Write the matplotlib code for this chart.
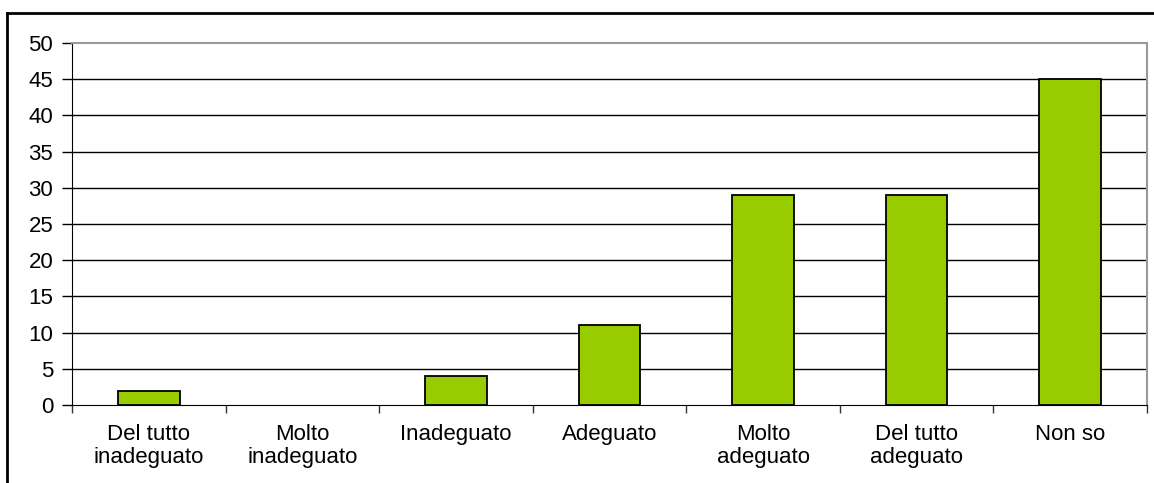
import matplotlib
matplotlib.use("Agg")
import matplotlib.pyplot as plt
from matplotlib.lines import Line2D

plt.rcParams['font.family'] = ['Liberation Sans', 'DejaVu Sans']

# data
categorie = ["Del tutto\ninadeguato", "Molto\ninadeguato", "Inadeguato", "Adeguato",
             "Molto\nadeguato", "Del tutto\nadeguato", "Non so"]
valori = [2, 0, 4, 11, 29, 29, 45]
yticks = [0, 5, 10, 15, 20, 25, 30, 35, 40, 45, 50]

fig = plt.figure(figsize=(11.54, 4.83), dpi=100)
ax = fig.add_axes([72/1154, 1-405/483, (1147-72)/1154, (405-43)/483])

x = range(len(categorie))
# no outline on empty bars, like the original
lw = [1.3 if v > 0 else 0 for v in valori]
ax.bar(x, valori, width=0.4, color='#99CC00', edgecolor='black', linewidth=lw, zorder=3)

ax.set_xlim(-0.5, len(categorie)-0.5)
ax.set_ylim(0, 50)
ax.set_yticks(yticks)
ax.tick_params(axis='y', labelsize=16, length=7, width=1, pad=6.5)

# category boundary ticks, labels centered between them
ax.set_xticks([i-0.5 for i in range(len(categorie)+1)])
ax.set_xticklabels([])
ax.set_xticks(list(x), minor=True)
ax.set_xticklabels(categorie, minor=True, fontsize=16, linespacing=1.1)
ax.tick_params(axis='x', which='major', length=6, width=1, color='#333333')
ax.tick_params(axis='x', which='minor', length=0, pad=14)

for v in yticks[1:-1]:
    ax.axhline(v, color='black', linewidth=1, zorder=1)

ax.spines['top'].set_color('#999999')
ax.spines['right'].set_color('#999999')
ax.spines['top'].set_linewidth(1.5)
ax.spines['right'].set_linewidth(1.5)
ax.spines['left'].set_color('black')
ax.spines['bottom'].set_color('black')

# outer chart frame (only left and top visible in the crop)
fig.add_artist(Line2D([7/1154, 7/1154], [0, 1-13/483], color='black', linewidth=2))
fig.add_artist(Line2D([7/1154, 1], [1-13/483, 1-13/483], color='black', linewidth=2))

fig.savefig("out.png", dpi=100)
